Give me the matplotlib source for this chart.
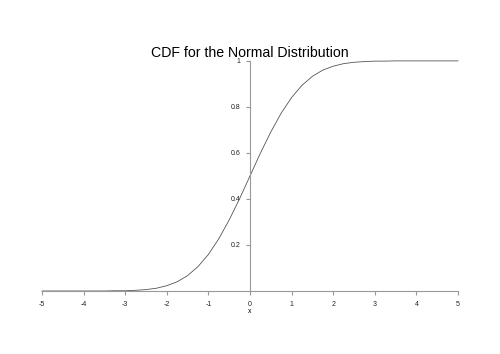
import numpy as np
import matplotlib.pyplot as plt

plt.rcParams['font.family'] = ['Liberation Sans', 'DejaVu Sans']

# values, every 0.25 on x
x_vals = np.arange(-5, 5.001, 0.25)
cdf_vals = [0.000, 0.000, 0.000, 0.000, 0.000, 0.000, 0.000, 0.001, 0.001, 0.003,
            0.006, 0.012, 0.023, 0.040, 0.067, 0.106, 0.159, 0.227, 0.309, 0.401,
            0.500,
            0.599, 0.691, 0.773, 0.841, 0.894, 0.933, 0.960, 0.977, 0.988, 0.994,
            0.997, 0.999, 0.999, 1.000, 1.000, 1.000, 1.000, 1.000, 1.000, 1.000]

x_ticks = [-5, -4, -3, -2, -1, 0, 1, 2, 3, 4, 5]
x_ticklabels = ['-5', '-4', '-3', '-2', '-1', '0', '1', '2', '3', '4', '5']
y_ticks = [0.2, 0.4, 0.6, 0.8, 1.0]
y_ticklabels = ['0.2', '0.4', '0.6', '0.8', '1']

fig = plt.figure(figsize=(5, 3.54), dpi=100)
ax = fig.add_axes([0.084, 0.178, 0.832, 0.65])

ax.plot(x_vals, cdf_vals, color='#555555', lw=0.6, clip_on=False)

ax.set_xlim(-5, 5)
ax.set_ylim(0, 1)
for s in ['top', 'right']:
    ax.spines[s].set_visible(False)
ax.spines['left'].set_position(('data', 0))
ax.spines['bottom'].set_position(('data', 0))
for s in ['left', 'bottom']:
    ax.spines[s].set_color('#999999')
    ax.spines[s].set_linewidth(0.8)

ax.set_xticks(x_ticks)
ax.set_xticklabels(x_ticklabels)
ax.set_yticks(y_ticks)
ax.set_yticklabels(y_ticklabels)
ax.tick_params(axis='both', direction='out', length=3, width=0.8, color='#999999',
               labelsize=5, pad=4, labelcolor='#222222')

ax.set_xlabel('x', fontsize=5, labelpad=0)
ax.set_title('CDF for the Normal Distribution', fontsize=10.2, pad=3)

fig.savefig('out.png', dpi=100, facecolor='white')
